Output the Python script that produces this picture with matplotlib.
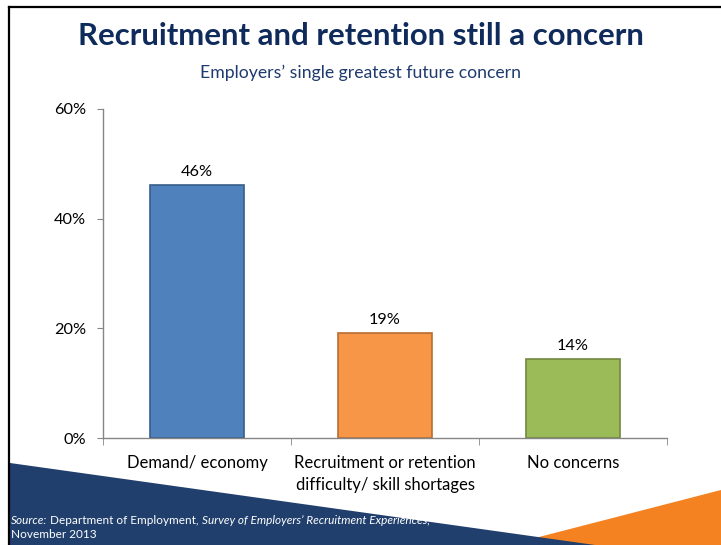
import matplotlib.pyplot as plt
from matplotlib.patches import Polygon
from matplotlib.lines import Line2D
from matplotlib.ticker import FuncFormatter

plt.rcParams['font.family'] = ['Lato', 'DejaVu Sans']

# chart data
categories = ['Demand/ economy',
              'Recruitment or retention\ndifficulty/ skill shortages',
              'No concerns']
shares = [46.2, 19.1, 14.4]
y_ticks = [0, 20, 40, 60]

fills = ['#4f81bd', '#f79646', '#9bbb59']
edges = ['#385d8a', '#b66d31', '#71893f']
NAVY = '#0f2b5b'
AXIS_GREY = '#868686'

W, H = 721, 545
fig = plt.figure(figsize=(W / 100, H / 100), dpi=100)
fig.patch.set_facecolor('white')

# slide decoration: frame lines and the two corner wedges (pixel space)
deco = fig.add_axes([0, 0, 1, 1], zorder=0)
deco.set_xlim(0, W)
deco.set_ylim(H, 0)
deco.axis('off')
deco.add_patch(Polygon([(508, H), (W, 490), (W, H)], closed=True,
                       facecolor='#f58220', edgecolor='none'))
deco.add_patch(Polygon([(10, 463), (595, H), (10, H)], closed=True,
                       facecolor='#203f6c', edgecolor='none'))
deco.add_line(Line2D([9, 9], [7, H], color='black', lw=1.6))
deco.add_line(Line2D([9, W], [7, 7], color='black', lw=1.6))

fig.text(0.5, 1 - 36 / H, 'Recruitment and retention still a concern',
         ha='center', va='center', fontsize=22.4, fontweight='bold', color=NAVY)
fig.text(0.5, 1 - 73 / H, 'Employers\u2019 single greatest future concern',
         ha='center', va='center', fontsize=12.7, color='#1f3a6e')

# source note sits on the navy wedge, mixing italic and upright runs
src_y = 1 - 520 / H
SRC_FS = 8.5
runs = [('Source:', 'italic'), ('Department of Employment,', 'normal'),
        ('Survey of Employers\u2019 Recruitment Experiences,', 'italic')]
x = 11 / W
for txt, st in runs:
    t = fig.text(x, src_y, txt, ha='left', va='center', fontsize=SRC_FS,
                 color='white', style=st)
    fig.canvas.draw()
    x = (t.get_window_extent().x1 + 3) / W
fig.text(11 / W, 1 - 534 / H, 'November 2013', ha='left', va='center',
         fontsize=SRC_FS, color='white')

# bar chart
ax = fig.add_axes([103 / W, 1 - 438 / H, 564 / W, 329 / H], zorder=1)
ax.patch.set_alpha(0)
pos = list(range(len(categories)))
bars = ax.bar(pos, shares, width=0.5, color=fills, edgecolor=edges, linewidth=1.2)
for b, v in zip(bars, shares):
    ax.text(b.get_x() + b.get_width() / 2, v + 1.1, f'{v:.0f}%',
            ha='center', va='bottom', fontsize=11.7, color='black')

ax.set_xlim(-0.5, len(categories) - 0.5)
ax.set_ylim(0, 60)
ax.set_yticks(y_ticks)
ax.yaxis.set_major_formatter(FuncFormatter(lambda v, _: f'{v:.0f}%'))
ax.set_xticks(pos)
ax.set_xticklabels(categories, fontsize=12, linespacing=1.5)
ax.set_xticks([p - 0.5 for p in pos] + [pos[-1] + 0.5], minor=True)
ax.tick_params(axis='x', which='major', length=0, pad=12)
ax.tick_params(axis='x', which='minor', length=5, color=AXIS_GREY, direction='out')
ax.tick_params(axis='y', length=4, color=AXIS_GREY, labelsize=11.7, pad=8)
for side in ('top', 'right'):
    ax.spines[side].set_visible(False)
for side in ('left', 'bottom'):
    ax.spines[side].set_color(AXIS_GREY)
    ax.spines[side].set_linewidth(1)

fig.savefig('out.png', dpi=100)
